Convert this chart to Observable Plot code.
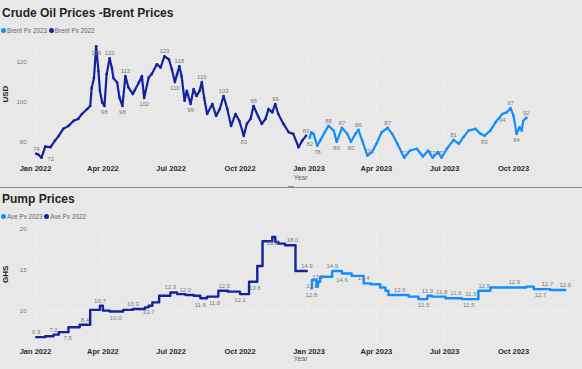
<!DOCTYPE html>
<html><head><meta charset="utf-8">
<script src="https://cdn.jsdelivr.net/npm/d3@7"></script>
<script src="https://cdn.jsdelivr.net/npm/@observablehq/plot@0.6"></script>
<style>
body{margin:0;background:#e8e8e8;}
#root{position:relative;width:582px;height:369px;background:#e8e8e8;overflow:hidden;font-family:"Liberation Sans",Arial,sans-serif;}
.title{position:absolute;left:2px;font-weight:bold;font-size:12px;line-height:12px;color:#252423;white-space:nowrap;}
.legend{position:absolute;left:1px;font-size:6.3px;line-height:7px;color:#666;display:flex;align-items:center;white-space:nowrap;}
.sw{display:inline-block;width:5px;height:5px;border-radius:50%;margin-right:1px;}
.plot{position:absolute;left:0;}
.sep{position:absolute;left:0;top:187px;width:582px;height:1px;background:#8c8c8c;}
.handle{position:absolute;left:288px;top:186px;width:6px;height:2px;background:#8c8c8c;}
</style></head>
<body>
<div id="root">
  <div class="title" style="top:7px">Crude Oil Prices -Brent Prices</div>
  <div class="legend" style="top:27px"><span class="sw" style="background:#118DFF"></span>Brent Px 2023&nbsp;<span class="sw" style="background:#12239E"></span>Brent Px 2022</div>
  <div id="top" class="plot" style="top:38px"></div>
  <div class="sep"></div><div class="handle"></div>
  <div class="title" style="top:193px">Pump Prices</div>
  <div class="legend" style="top:213px"><span class="sw" style="background:#118DFF"></span>Ave Px 2023&nbsp;<span class="sw" style="background:#12239E"></span>Ave Px 2022</div>
  <div id="bottom" class="plot" style="top:219px"></div>
</div>
<script>
// ---------- data ----------
const quarterTicks = ["2022-01-01","2022-04-01","2022-07-01","2022-10-01","2023-01-01","2023-04-01","2023-07-01","2023-10-01"];
const brentTicks = [80, 100, 120];
const pumpTicks = [10, 15, 20];

const brentDates2022 = ["2022-01-02","2022-01-05","2022-01-09","2022-01-14","2022-01-21","2022-01-27","2022-02-01","2022-02-07","2022-02-14","2022-02-21","2022-02-27","2022-03-04","2022-03-11","2022-03-15","2022-03-17","2022-03-20","2022-03-23","2022-03-26","2022-03-28","2022-03-31","2022-04-03","2022-04-06","2022-04-10","2022-04-13","2022-04-15","2022-04-20","2022-04-23","2022-04-27","2022-05-01","2022-05-05","2022-05-11","2022-05-13","2022-05-19","2022-05-23","2022-05-26","2022-06-01","2022-06-05","2022-06-12","2022-06-17","2022-06-22","2022-06-28","2022-07-02","2022-07-06","2022-07-09","2022-07-12","2022-07-15","2022-07-19","2022-07-22","2022-07-27","2022-07-31","2022-08-04","2022-08-08","2022-08-11","2022-08-14","2022-08-18","2022-08-25","2022-08-30","2022-09-04","2022-09-09","2022-09-14","2022-09-19","2022-09-25","2022-09-30","2022-10-06","2022-10-10","2022-10-15","2022-10-19","2022-10-25","2022-10-30","2022-11-04","2022-11-08","2022-11-13","2022-11-17","2022-11-21","2022-11-28","2022-12-05","2022-12-11","2022-12-18","2022-12-23","2022-12-28"];
const brentValues2022 = [74,73.5,72,77.6,77.3,80.6,83,86.5,88,90.6,91.5,94,96.5,98,107,112,128,115.6,105.6,99.8,98,114,122,117,112,109.8,102.3,98,113,107.3,104,105.6,109.8,113,102,112.3,114,119,117.3,123,121.5,116.5,110,114,118,113,100.6,105.6,99,106.5,103,105.6,110,102.3,94,99,93,96.5,103,96.5,88,94,90.6,83,89,91.5,98,93,89,91.5,96.5,94.8,99,94,89,84.8,84,77.3,80.6,83];
const brentLabelsAbove2022 = ["2022-01-02","2022-04-10","2022-05-01","2022-06-22","2022-07-12","2022-08-11","2022-09-09","2022-10-19","2022-11-17","2022-12-28"];
const brentLabelsBelow2022 = ["2022-03-23","2022-04-03","2022-04-27","2022-05-26","2022-07-06","2022-07-27","2022-10-06"];
const brentLabelsRight2022 = ["2022-01-09"];

const brentDates2023 = ["2023-01-02","2023-01-04","2023-01-07","2023-01-12","2023-01-16","2023-01-22","2023-01-27","2023-02-03","2023-02-07","2023-02-14","2023-02-21","2023-02-26","2023-03-04","2023-03-08","2023-03-13","2023-03-20","2023-03-26","2023-04-01","2023-04-08","2023-04-16","2023-04-22","2023-04-29","2023-05-08","2023-05-16","2023-05-25","2023-06-02","2023-06-09","2023-06-15","2023-06-22","2023-06-27","2023-07-04","2023-07-13","2023-07-20","2023-07-26","2023-08-02","2023-08-11","2023-08-18","2023-08-23","2023-08-31","2023-09-07","2023-09-16","2023-09-22","2023-09-27","2023-10-01","2023-10-05","2023-10-09","2023-10-12","2023-10-14","2023-10-18"];
const brentValues2023 = [82,84.8,84,78,80.6,84.8,88,85.6,80,87,84,80,84,86,80.6,73,74.8,79,84.8,87,84,79,72,75.6,76.5,72.6,75.6,72,74.8,72,76.5,81,79,82.3,85.6,86.5,84,83,85.6,89.8,94,94.8,97,93,84,87.3,85.6,90.6,92];
const brentLabelsAbove2023 = ["2023-01-27","2023-02-14","2023-03-08","2023-03-20","2023-04-16","2023-05-08","2023-06-15","2023-06-27","2023-07-13","2023-09-27","2023-10-18"];
const brentLabelsBelow2023 = ["2023-01-02","2023-01-12","2023-02-07","2023-02-26","2023-08-23","2023-09-16","2023-10-05"];

const pumpDates2022 = ["2022-01-02","2022-01-14","2022-01-25","2022-02-01","2022-02-13","2022-02-14","2022-03-01","2022-03-08","2022-03-15","2022-03-28","2022-04-01","2022-04-10","2022-04-18","2022-04-28","2022-05-11","2022-05-27","2022-06-01","2022-06-06","2022-06-15","2022-06-30","2022-07-09","2022-07-20","2022-07-31","2022-08-09","2022-08-18","2022-08-28","2022-09-02","2022-09-10","2022-09-15","2022-10-01","2022-10-13","2022-10-21","2022-10-24","2022-10-31","2022-11-13","2022-11-17","2022-11-21","2022-11-30","2022-12-10","2022-12-14","2022-12-29"];
const pumpValues2022 = [6.9,7.0,7.2,7.5,7.5,8.1,8.4,8.4,10.2,10.7,10.1,10.0,10.0,10.2,10.3,10.5,10.7,11.1,11.9,12.3,12.1,12.0,11.9,11.6,11.8,11.8,12.5,12.5,12.4,12.1,13.6,13.6,15.5,18.5,19.0,18.4,18.2,18.0,18.0,14.9,14.9];
const pumpLabelsAbove2022 = ["2022-01-02","2022-01-25","2022-03-08","2022-03-28","2022-05-11","2022-06-30","2022-07-20","2022-09-10","2022-12-10","2022-12-29"];
const pumpLabelsBelow2022 = ["2022-02-13","2022-04-18","2022-06-01","2022-08-09","2022-08-28","2022-10-01","2022-10-21","2022-11-13"];

const pumpDates2023 = ["2023-01-04","2023-01-05","2023-01-11","2023-01-13","2023-01-16","2023-02-01","2023-02-14","2023-02-27","2023-03-15","2023-03-24","2023-04-06","2023-04-13","2023-04-17","2023-05-02","2023-05-14","2023-05-27","2023-06-03","2023-06-08","2023-06-14","2023-06-27","2023-07-02","2023-07-16","2023-07-24","2023-08-02","2023-08-05","2023-08-15","2023-08-23","2023-08-31","2023-10-02","2023-10-18","2023-10-28","2023-11-06","2023-11-15","2023-11-19","2023-12-09"];
const pumpValues2023 = [12.8,13.8,13.0,13.6,14.2,14.9,14.6,14.3,13.4,13.3,12.9,12.5,12.0,12.0,11.8,11.5,11.5,11.9,11.8,11.8,11.6,11.6,11.5,11.5,11.5,12.5,12.5,12.9,12.9,13.0,12.7,12.7,12.7,12.6,12.6];
const pumpLabelsAbove2023 = ["2023-01-13","2023-02-01","2023-03-15","2023-05-02","2023-06-08","2023-06-27","2023-07-16","2023-08-05","2023-08-23","2023-10-02","2023-11-15","2023-12-09"];
const pumpLabelsBelow2023 = ["2023-01-04","2023-01-05","2023-02-14","2023-06-03","2023-08-02","2023-11-06"];

// ---------- helpers ----------
const parse = d3.utcParse("%Y-%m-%d");
const fmtKey = d3.utcFormat("%Y-%m-%d");
function series(dates, values) {
  if (dates.length !== values.length) throw new Error("length mismatch " + dates.length + " vs " + values.length);
  return dates.map((d, i) => ({date: parse(d), value: values[i]}));
}
function pick(rows, list) {
  const s = new Set(list);
  const out = rows.filter(r => s.has(fmtKey(r.date)));
  if (out.length !== list.length) throw new Error("label date missing: " + list.filter(d => !rows.some(r => fmtKey(r.date) === d)));
  return out;
}
const C22 = "#12239E", C23 = "#118DFF";
const font = "Liberation Sans, Arial, sans-serif";
const xDomain = [new Date(Date.UTC(2021, 11, 25, 8)), new Date(Date.UTC(2023, 11, 16))];
const qt = quarterTicks.map(parse);
const gridStyle = {stroke: "#ffffff", strokeOpacity: 0.85, strokeDasharray: "1,2", strokeWidth: 0.8};

function labelMarks(rows, above, below, right, fmt) {
  const common = {x: "date", y: "value", text: d => fmt(d.value), fontSize: 6, fill: "#7a7a7a"};
  return [
    Plot.text(pick(rows, above), {...common, lineAnchor: "bottom", dy: -3}),
    Plot.text(pick(rows, below), {...common, lineAnchor: "top", dy: 4}),
    Plot.text(pick(rows, right || []), {...common, textAnchor: "start", dx: 6, dy: 1})
  ];
}

function chart({rows22, rows23, yDomain, yTicks, yTitle, height, marginTop, marginBottom, step, labels, fmt, yearDy}) {
  const lineOpts = step ? {curve: "step-after"} : {};
  const sw = step ? 2.4 : 2.2;
  return Plot.plot({
    width: 582, height, marginLeft: 30, marginRight: 12, marginTop, marginBottom,
    style: {background: "transparent", fontFamily: font, overflow: "visible"},
    x: {type: "utc", domain: xDomain},
    y: {domain: yDomain},
    marks: [
      Plot.gridX(qt, gridStyle),
      Plot.gridY(yTicks, gridStyle),
      Plot.axisX(qt, {tickSize: 0, tickPadding: 3, tickFormat: d3.utcFormat("%b %Y"), fontSize: 7.5, fontWeight: "bold", fill: "#2b2b2b", label: null}),
      Plot.axisY(yTicks, {tickSize: 0, tickPadding: 4, fontSize: 6, fill: "#777", label: null}),
      Plot.line(rows22, {x: "date", y: "value", stroke: C22, strokeWidth: sw, ...lineOpts}),
      step ? null : Plot.dot(rows22, {x: "date", y: "value", r: 1.3, fill: C22}),
      Plot.line(rows23, {x: "date", y: "value", stroke: C23, strokeWidth: sw, ...lineOpts}),
      step ? null : Plot.dot(rows23, {x: "date", y: "value", r: 1.3, fill: C23}),
      ...labelMarks(rows22, labels[0], labels[1], labels[4], fmt),
      ...labelMarks(rows23, labels[2], labels[3], labels[5], fmt),
      Plot.text([yTitle], {text: d => d, frameAnchor: "left", rotate: -90, dx: -25, fontSize: 8, fontWeight: "bold", fill: "#222"}),
      Plot.text(["Year"], {text: d => d, frameAnchor: "bottom", dy: yearDy, fontSize: 7, fill: "#666"})
    ]
  });
}

const brent22 = series(brentDates2022, brentValues2022);
const brent23 = series(brentDates2023, brentValues2023);
const pump22 = series(pumpDates2022, pumpValues2022);
const pump23 = series(pumpDates2023, pumpValues2023);

document.getElementById("top").append(chart({
  rows22: brent22, rows23: brent23, yDomain: [69.5, 130], yTicks: brentTicks, yTitle: "USD",
  height: 149, marginTop: 3.8, marginBottom: 24.8, step: false,
  labels: [brentLabelsAbove2022, brentLabelsBelow2022, brentLabelsAbove2023, brentLabelsBelow2023, brentLabelsRight2022, []],
  fmt: v => d3.format(".0f")(v), yearDy: 17
}));
document.getElementById("bottom").append(chart({
  rows22: pump22, rows23: pump23, yDomain: [5.9, 21], yTicks: pumpTicks, yTitle: "GHS",
  height: 150, marginTop: 1, marginBottom: 24.1, step: true,
  labels: [pumpLabelsAbove2022, pumpLabelsBelow2022, pumpLabelsAbove2023, pumpLabelsBelow2023, [], []],
  fmt: v => d3.format(".1f")(v), yearDy: 16
}));
</script>
</body></html>
